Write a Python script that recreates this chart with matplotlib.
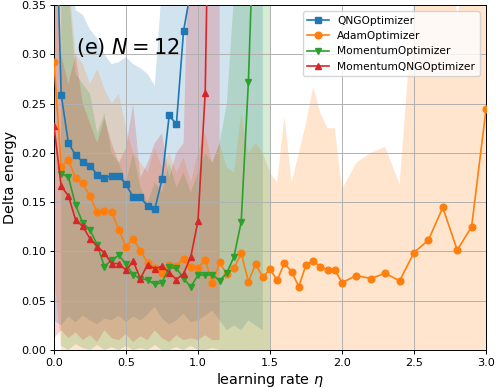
import numpy as np
import matplotlib
matplotlib.use("Agg")
import matplotlib.pyplot as plt

# ---------------- data ----------------
eta_qng = np.round(np.linspace(0.0, 1.45, 30), 2)
qng_mean = [0.52, 0.259, 0.210, 0.1975, 0.191, 0.187, 0.178, 0.1745, 0.177, 0.177,
            0.168, 0.155, 0.155, 0.146, 0.143, 0.173, 0.238, 0.229, 0.324, 0.365,
            0.5, 0.7, 0.9, 1.0, 1.1, 1.2, 1.3, 1.4, 1.5, 1.6]
qng_upper = [0.6, 0.5, 0.40, 0.345, 0.34, 0.325, 0.316, 0.30, 0.29, 0.292,
             0.297, 0.29, 0.286, 0.28, 0.268, 0.37, 0.5, 0.6, 0.7, 0.8,
             0.9, 1.0, 1.0, 1.0, 1.0, 1.0, 1.0, 1.0, 1.0, 1.0]
qng_lower = [0.03, 0.025, 0.034, 0.028, 0.035, 0.03, 0.026, 0.032, 0.03, 0.035,
             0.028, 0.034, 0.03, 0.036, 0.044, 0.032, 0.026, 0.03, 0.037, 0.028,
             0.03, 0.035, 0.04, 0.03, 0.02, 0.025, 0.02, 0.03, 0.025, 0.02]

eta_adam = np.round(np.concatenate([np.linspace(0.0, 2.0, 41), np.linspace(2.1, 3.0, 10)]), 2)
adam_mean = [0.292, 0.186, 0.193, 0.174, 0.169, 0.156, 0.1395, 0.141, 0.140, 0.122,
             0.105, 0.1125, 0.1006, 0.0887, 0.083, 0.0786, 0.0864, 0.0854, 0.0925, 0.0845,
             0.0835, 0.0915, 0.0678, 0.0888, 0.0769, 0.0828, 0.0982, 0.0694, 0.0871, 0.0738,
             0.0820, 0.0708, 0.0881, 0.0793, 0.0644, 0.0864, 0.0901, 0.0847, 0.0813, 0.0813,
             0.0684, 0.0755, 0.0725, 0.0779, 0.0701, 0.0989, 0.1115, 0.1446, 0.1013, 0.125,
             0.244]
adam_upper = [0.6, 0.5, 0.38, 0.30, 0.29, 0.27, 0.285, 0.265, 0.25, 0.26,
              0.225, 0.2, 0.19, 0.18, 0.205, 0.185, 0.2, 0.18, 0.195, 0.17,
              0.2, 0.22, 0.19, 0.21, 0.185, 0.18, 0.24, 0.2, 0.21, 0.2,
              0.18, 0.17, 0.237, 0.17, 0.2, 0.23, 0.267, 0.24, 0.225, 0.225,
              0.163, 0.19, 0.2, 0.206, 0.168, 0.36, 0.4, 0.45, 0.34, 0.4,
              0.5]
adam_lower = [0.08] + [0.0] * 50

eta_mom = np.round(np.linspace(0.05, 1.5, 30), 2)
mom_mean = [0.179, 0.1755, 0.147, 0.1287, 0.122, 0.1067, 0.0847, 0.0915, 0.096, 0.0872,
            0.0762, 0.0725, 0.0711, 0.0667, 0.0684, 0.0837, 0.083, 0.0725, 0.0640, 0.0760,
            0.0762, 0.0762, 0.0705, 0.0779, 0.0948, 0.130, 0.272, 0.49, 0.7, 0.9]
mom_upper = [0.36, 0.37, 0.28, 0.27, 0.26, 0.22, 0.24, 0.2, 0.19, 0.17,
             0.2, 0.165, 0.15, 0.17, 0.16, 0.19, 0.165, 0.18, 0.16, 0.18,
             0.2, 0.19, 0.21, 0.25, 0.36, 0.6, 0.8, 1.0, 1.0, 1.0]
mom_lower = [0.004, 0.0, 0.006, 0.002, 0.0, 0.005, 0.0, 0.003, 0.0, 0.004,
             0.0, 0.002, 0.0, 0.005, 0.0, 0.0, 0.003, 0.0, 0.004, 0.0,
             0.0, 0.002, 0.0, 0.0, 0.0, 0.0, 0.0, 0.0, 0.0, 0.0]

eta_mqng = np.round(np.linspace(0.0, 1.15, 24), 2)
mqng_mean = [0.227, 0.166, 0.1565, 0.132, 0.1253, 0.113, 0.105, 0.0985, 0.0877, 0.0877,
             0.081, 0.090, 0.0725, 0.0867, 0.0825, 0.085, 0.0786, 0.0715, 0.0776, 0.0945,
             0.131, 0.261, 0.7, 0.9]
mqng_upper = [0.40, 0.30, 0.27, 0.30, 0.25, 0.23, 0.21, 0.235, 0.21, 0.19,
              0.205, 0.25, 0.175, 0.19, 0.21, 0.22, 0.175, 0.2, 0.21, 0.5,
              0.8, 1.0, 1.2, 1.3]
mqng_lower = [0.012, 0.02, 0.012, 0.018, 0.01, 0.015, 0.008, 0.02, 0.012, 0.01,
              0.016, 0.008, 0.014, 0.01, 0.02, 0.012, 0.008, 0.015, 0.01, 0.012,
              0.01, 0.015, 0.01, 0.01]

labels = ["QNGOptimizer", "AdamOptimizer", "MomentumOptimizer", "MomentumQNGOptimizer"]
xticks = [0.0, 0.5, 1.0, 1.5, 2.0, 2.5, 3.0]
yticks = [0.00, 0.05, 0.10, 0.15, 0.20, 0.25, 0.30, 0.35]

# ---------------- plot ----------------
fig = plt.figure(figsize=(4.98, 3.88), dpi=100)
ax = fig.add_axes([54 / 498, 38 / 388, 432 / 498, 345 / 388])

series = [
    (eta_qng, qng_mean, qng_lower, qng_upper, "C0", "s"),
    (eta_adam, adam_mean, adam_lower, adam_upper, "C1", "o"),
    (eta_mom, mom_mean, mom_lower, mom_upper, "C2", "v"),
    (eta_mqng, mqng_mean, mqng_lower, mqng_upper, "C3", "^"),
]

for x, m, lo, hi, c, mk in series:
    ax.fill_between(x, lo, hi, color=c, alpha=0.2, linewidth=0, zorder=1)

for (x, m, lo, hi, c, mk), lab in zip(series, labels):
    ax.plot(x, m, color=c, marker=mk, markersize=4.8, linewidth=1.2, label=lab, zorder=3)

ax.set_xlim(0, 3.0)
ax.set_ylim(0, 0.35)
ax.set_xticks(xticks)
ax.set_yticks(yticks)
ax.set_xticklabels([f"{v:.1f}" for v in xticks])
ax.set_yticklabels([f"{v:.2f}" for v in yticks])
ax.tick_params(labelsize=8.1, length=2.8, pad=2.8, width=0.7)
ax.grid(True, color="#b0b0b0", linewidth=0.7)
for g in ax.get_xgridlines() + ax.get_ygridlines():
    g.set_zorder(2)
for s in ax.spines.values():
    s.set_linewidth(0.7)

ax.set_xlabel(r"learning rate $\eta$", fontsize=10.4, labelpad=2)
ax.set_ylabel("Delta energy", fontsize=10.4, labelpad=3)
ax.text(0.15, 0.307, r"(e) $N=12$", fontsize=15, ha="left", va="center", zorder=4)

ax.legend(loc="upper right", fontsize=7.7, labelspacing=0.5, framealpha=0.8,
          borderaxespad=0.6)

fig.savefig("out.png", dpi=100)
